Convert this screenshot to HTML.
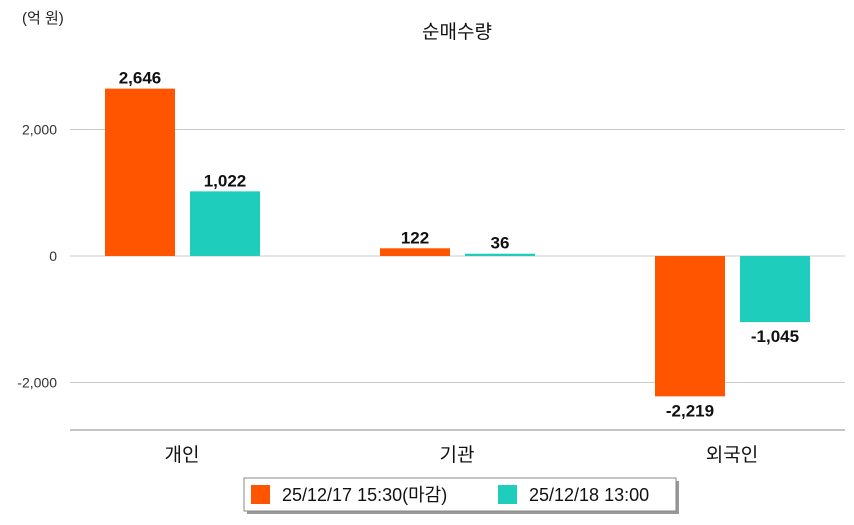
<!DOCTYPE html>
<html><head><meta charset="utf-8"><style>
body{margin:0;background:#fff;}
svg{font-family:"Liberation Sans","Noto Sans CJK KR",sans-serif;}
</style></head><body>
<svg id="c" width="854" height="520"></svg>
<script>
const categories=["개인","기관","외국인"];
const series1=[2646,122,-2219];
const series2=[1022,36,-1045];
const seriesNames=["25/12/17 15:30(마감)","25/12/18 13:00"];
const yTicks=[-2000,0,2000];
const colors=["#ff5500","#1ecdbb"];
const svg=document.getElementById('c');
const NS='http://www.w3.org/2000/svg';
function el(t,a,txt){const e=document.createElementNS(NS,t);for(const k in a)e.setAttribute(k,a[k]);if(txt!==undefined)e.textContent=txt;svg.appendChild(e);return e;}
function y(v){return 256-v*0.06325;}
function xc(i){return 182+i*275;}
function fmt(v){return v.toLocaleString('en-US');}
let t=el('text',{x:457,y:38,'text-anchor':'middle','font-size':19,fill:'#111'},'순매수량');

t=el('text',{x:22,y:23,'font-size':15,fill:'#222'},'(억 원)');

yTicks.forEach(v=>{
 let g=el('line',{x1:70,x2:845,y1:y(v),y2:y(v),stroke:'#ccc','stroke-width':1});
 
 let l=el('text',{x:57,y:y(v)+5,'text-anchor':'end','font-size':14,fill:'#333'},fmt(v));
 
});
let ax=el('line',{x1:70,x2:845,y1:430,y2:430,stroke:'#888','stroke-width':1});

[series1,series2].forEach((s,si)=>{
 s.forEach((v,i)=>{
  const cx=xc(i)+(si===0?-42:43);
  const top=Math.min(y(v),y(0)),h=Math.abs(y(v)-y(0));
  let b=el('rect',{x:cx-35,y:top,width:70,height:Math.max(h,1),fill:colors[si]});
  
  const ly=v>=0?y(v)-5:y(v)+20;
  let l=el('text',{x:cx,y:ly,'text-anchor':'middle','font-size':17,'font-weight':'600',fill:'#111'},fmt(v));
  
 });
});
categories.forEach((c,i)=>{
 let l=el('text',{x:xc(i),y:461,'text-anchor':'middle','font-size':19,fill:'#111'},c);
 
});
let sh=el('rect',{x:247,y:481,width:432,height:33,fill:'#999'});

let lb=el('rect',{x:244,y:478,width:432,height:33,fill:'#fff',stroke:'#888'});

const lx=[251,498];
seriesNames.forEach((n,i)=>{
 let r=el('rect',{x:lx[i],y:485,width:19,height:19,fill:colors[i]});
 
 let l=el('text',{x:lx[i]+31,y:501,'font-size':18,fill:'#111'},n);
 
});
</script>
</body></html>
